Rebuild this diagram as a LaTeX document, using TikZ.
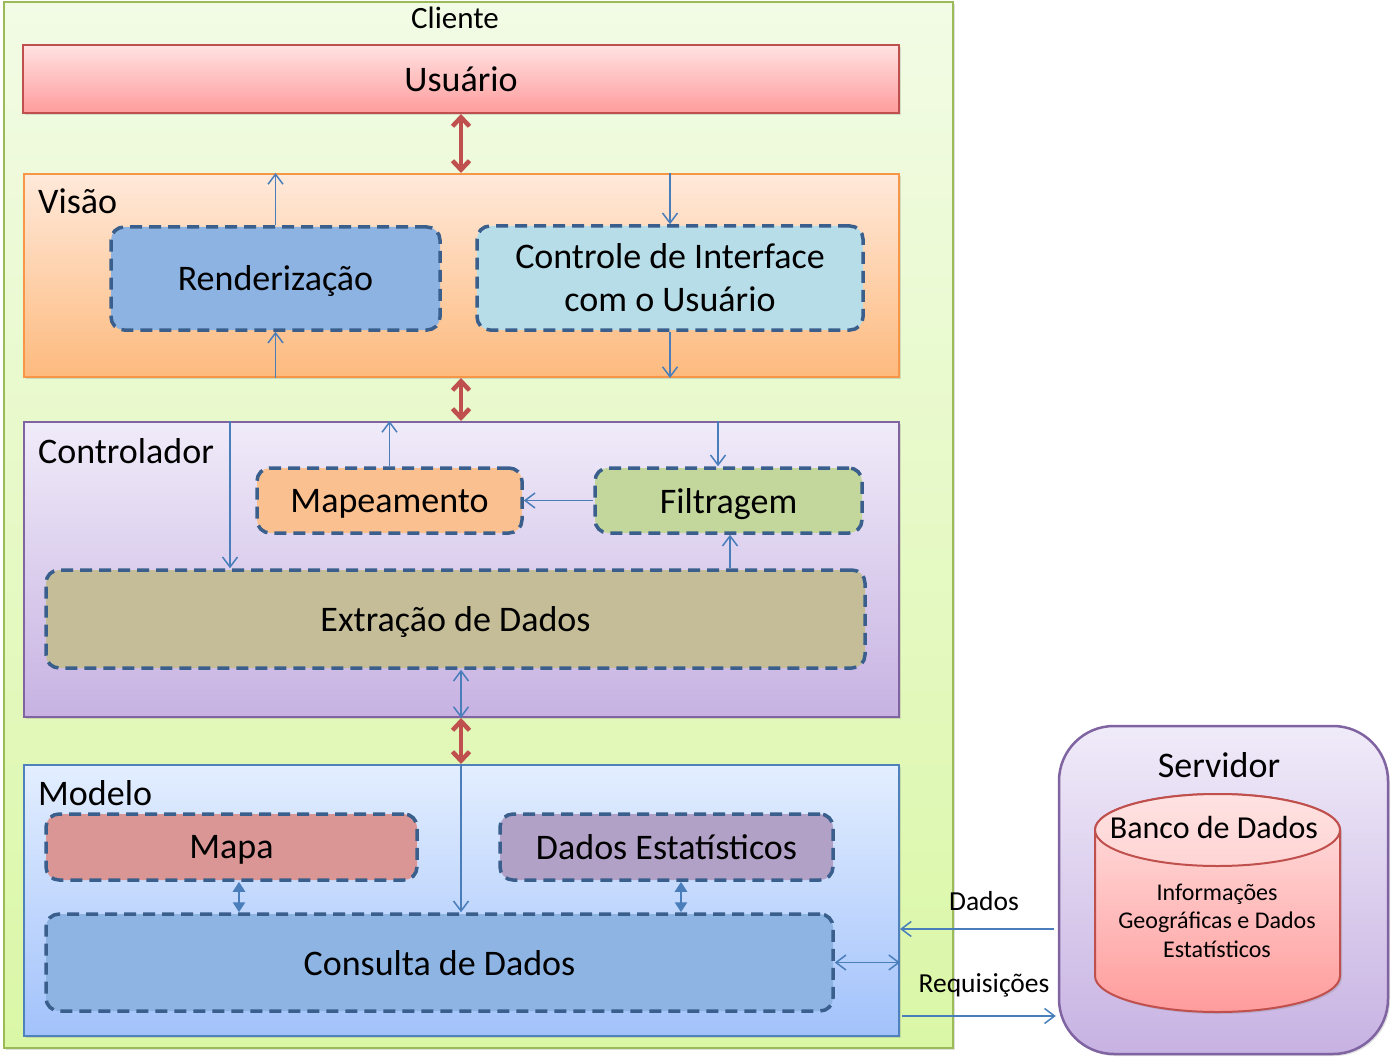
\documentclass[tikz,border=0pt]{standalone}
\usepackage{fontspec}
\setmainfont{Carlito}
\usetikzlibrary{arrows.meta,shadows}
\definecolor{dashc}{HTML}{3A5F8C}
\definecolor{bluec}{HTML}{4A7EBB}
\definecolor{redc}{HTML}{C0504D}
\definecolor{cliBd}{HTML}{9BBB59}
\definecolor{cliT}{HTML}{F2FBE5}
\definecolor{cliB}{HTML}{DAF7A6}
\definecolor{usuT}{HTML}{FFE2E2}
\definecolor{usuB}{HTML}{FF9C9C}
\definecolor{visT}{HTML}{FFE9DA}
\definecolor{visB}{HTML}{FDBA7E}
\definecolor{visBd}{HTML}{F79646}
\definecolor{ctlT}{HTML}{F0EBF9}
\definecolor{ctlB}{HTML}{C7B2E2}
\definecolor{ctlBd}{HTML}{8064A2}
\definecolor{modT}{HTML}{E3EEFF}
\definecolor{modB}{HTML}{A2C2FB}
\definecolor{modBd}{HTML}{4F81BD}
\definecolor{rendF}{HTML}{8DB3E2}
\definecolor{ctrlF}{HTML}{B7DDE8}
\definecolor{mapeF}{HTML}{FAC090}
\definecolor{filtF}{HTML}{C3D69B}
\definecolor{extrF}{HTML}{C4BD97}
\definecolor{mapaF}{HTML}{D99694}
\definecolor{destF}{HTML}{B2A1C7}
\definecolor{consF}{HTML}{8EB4E3}
\begin{document}
\begin{tikzpicture}[x=1pt,y=-1pt,
  frame/.style={draw, line width=2pt, inner sep=0pt,
    drop shadow={shadow xshift=2pt,shadow yshift=-2pt,opacity=0.25}},
  inbox/.style={draw=dashc, line width=3.5pt, dash pattern=on 12pt off 7pt,
    rounded corners=13pt, inner sep=0pt, align=center, text depth=0pt,
    font=\fontsize{36}{43}\selectfont},
  biglabel/.style={font=\fontsize{36}{43}\selectfont, inner sep=0pt},
  redarr/.style={draw=redc, line width=4.5pt,
    {Straight Barb[length=9pt,width=17pt]}-{Straight Barb[length=9pt,width=17pt]}},
  bluearr/.style={draw=bluec, line width=1.5pt,
    -{Straight Barb[length=10pt,width=15pt]}},
  bluedbl/.style={draw=bluec, line width=1.5pt,
    {Straight Barb[length=10pt,width=15pt]}-{Straight Barb[length=10pt,width=15pt]}},
  filldbl/.style={draw=bluec, line width=2.5pt,
    {Triangle[length=10pt,width=12pt]}-{Triangle[length=10pt,width=12pt]}}
]
\useasboundingbox (0,0) rectangle (1392,1059);

% Cliente
\node[frame, draw=cliBd, top color=cliT, bottom color=cliB,
  minimum width=949pt, minimum height=1046pt] (cliente) at (478.5,525) {};
\node[font=\fontsize{31}{36}\selectfont, inner sep=0pt, anchor=base] (clil) at (455,29) {Cliente};

% Usuario
\node[frame, draw=redc, top color=usuT, bottom color=usuB, text depth=0pt,
  minimum width=876pt, minimum height=68pt, biglabel] (usuario) at (461,79) {Usuário};

% Visao
\node[frame, draw=visBd, top color=visT, bottom color=visB,
  minimum width=875pt, minimum height=203pt] (visao) at (461.5,275.5) {};
\node[biglabel, anchor=base west] (visl) at (38,214) {Visão};
\node[inbox, fill=rendF, minimum width=329pt, minimum height=103pt] (rend) at (275.5,278.5) {Renderização};
\node[inbox, fill=ctrlF, minimum width=386pt, minimum height=104pt] (ctrlint) at (670,278) {Controle de Interface\\com o Usuário};

% Controlador
\node[frame, draw=ctlBd, top color=ctlT, bottom color=ctlB,
  minimum width=875pt, minimum height=295pt] (controlador) at (461.5,569.5) {};
\node[biglabel, anchor=base west] (ctll) at (38,463) {Controlador};
\node[inbox, fill=mapeF, minimum width=265pt, minimum height=65pt] (mapeam) at (389.5,500.5) {Mapeamento};
\node[inbox, fill=filtF, minimum width=267pt, minimum height=65pt] (filtr) at (728.5,500.5) {Filtragem};
\node[inbox, fill=extrF, minimum width=819pt, minimum height=98pt] (extr) at (455.5,619) {Extração de Dados};

% Modelo
\node[frame, draw=modBd, top color=modT, bottom color=modB,
  minimum width=875pt, minimum height=271pt] (modelo) at (461.5,900.5) {};
\node[biglabel, anchor=base west] (modl) at (38,805) {Modelo};
\node[inbox, fill=mapaF, minimum width=371pt, minimum height=66pt] (mapa) at (231.5,847) {Mapa};
\node[inbox, fill=destF, minimum width=333pt, minimum height=66pt] (dadosest) at (666.5,847) {Dados Estatísticos};
\node[inbox, fill=consF, minimum width=787pt, minimum height=97pt] (consulta) at (439.5,962.5) {Consulta de Dados};

% Servidor
\node[frame, draw=ctlBd, line width=2.5pt, rounded corners=55pt, top color=ctlT, bottom color=ctlB,
  minimum width=329pt, minimum height=328pt] (servidor) at (1223.5,890) {};
\node[biglabel, anchor=base] (servl) at (1219,777) {Servidor};
\path[draw=redc, line width=2pt, top color=usuT, bottom color=usuB,
  drop shadow={shadow xshift=2pt,shadow yshift=-2pt,opacity=0.25}]
  (1095,830) -- (1095,976) arc[start angle=180, end angle=360, x radius=122.5pt, y radius=36pt]
  -- (1340,830) arc[start angle=0, end angle=180, x radius=122.5pt, y radius=36pt] -- cycle;
\path[draw=redc, line width=2pt, top color=usuT, bottom color={rgb,255:red,255;green,212;blue,212}]
  (1217.5,830) ellipse[x radius=122.5pt, y radius=36pt];
\node[font=\fontsize{32}{38}\selectfont, inner sep=0pt, anchor=base] (banco) at (1214,838) {Banco de Dados};
\node[font=\fontsize{24}{28.5}\selectfont, inner sep=0pt, anchor=base, align=center] (info) at (1217,957)
  {Informações\\Geográficas e Dados\\Estatísticos};

% helper coordinates (x positions of vertical connectors, y of horizontal ones)
\coordinate (cx230) at (230,0);
\coordinate (cx461) at (461,0);
\coordinate (cx718) at (718,0);
\coordinate (cx730) at (730,0);
\coordinate (cx239) at (239,0);
\coordinate (cx681) at (681,0);
\coordinate (cy929) at (0,929);
\coordinate (cy1016) at (0,1016);
\coordinate (cxreq) at (902,0);

% red layer arrows
\draw[redarr] (cx461 |- usuario.south) -- (cx461 |- visao.north);
\draw[redarr] (cx461 |- visao.south) -- (cx461 |- controlador.north);
\draw[redarr] (cx461 |- controlador.south) -- (cx461 |- modelo.north);

% Visao arrows
\draw[bluearr] (rend.north) -- (rend.north |- visao.north);
\draw[bluearr] (rend.south |- visao.south) -- (rend.south);
\draw[bluearr] (ctrlint.north |- visao.north) -- (ctrlint.north);
\draw[bluearr] (ctrlint.south) -- (ctrlint.south |- visao.south);

% Controlador arrows
\draw[bluearr] (cx230 |- controlador.north) -- (cx230 |- extr.north);
\draw[bluearr] (mapeam.north) -- (mapeam.north |- controlador.north);
\draw[bluearr] (cx718 |- controlador.north) -- (cx718 |- filtr.north);
\draw[bluearr] (filtr.west) -- (mapeam.east);
\draw[bluearr] (cx730 |- extr.north) -- (cx730 |- filtr.south);
\draw[bluedbl] (cx461 |- extr.south) -- (cx461 |- controlador.south);

% Modelo arrows
\draw[bluearr] (cx461 |- modelo.north) -- (cx461 |- consulta.north);
\draw[filldbl] (cx239 |- mapa.south) -- (cx239 |- consulta.north);
\draw[filldbl] (cx681 |- dadosest.south) -- (cx681 |- consulta.north);
\draw[bluedbl] (consulta.east) -- (consulta.east -| modelo.east);

% Client-server
\draw[bluearr] ([xshift=-4pt]servidor.west |- cy929) -- (modelo.east |- cy929);
\draw[bluearr] (cxreq |- cy1016) -- ([xshift=-2pt]servidor.west |- cy1016);
\node[font=\fontsize{27.5}{32}\selectfont, inner sep=0pt, anchor=base] (dadl) at (984,910) {Dados};
\node[font=\fontsize{27.5}{32}\selectfont, inner sep=0pt, anchor=base] (reql) at (984,992) {Requisições};
\end{tikzpicture}
\end{document}
